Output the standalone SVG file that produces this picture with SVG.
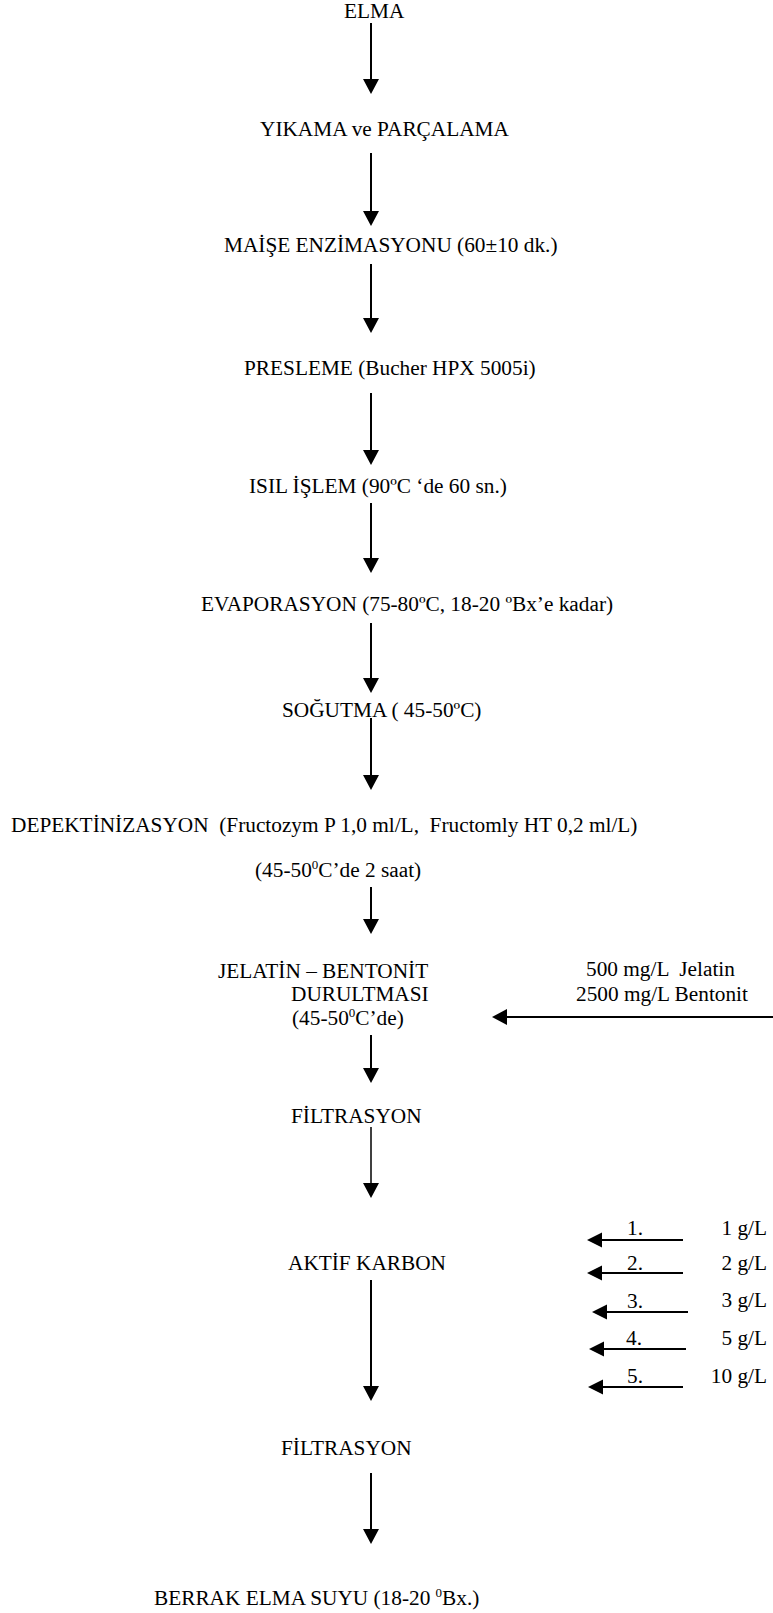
<svg xmlns="http://www.w3.org/2000/svg" width="773" height="1613" viewBox="0 0 773 1613">
<defs>
<marker id="ah" markerUnits="userSpaceOnUse" markerWidth="16" markerHeight="16" refX="5" refY="8" orient="auto" viewBox="0 0 16 16">
<path d="M0,0 L15,8 L0,16 z" fill="#000"/>
</marker>
<marker id="ahs" markerUnits="userSpaceOnUse" markerWidth="16" markerHeight="16" refX="5" refY="7.5" orient="auto" viewBox="0 0 16 15">
<path d="M0,0 L15,7.5 L0,15 z" fill="#000"/>
</marker>
</defs>
<style>
text{font-family:"Liberation Serif","DejaVu Serif",serif;font-size:21.3px;fill:#000;white-space:pre}
.c{stroke:#000;stroke-width:2;fill:none;marker-end:url(#ah)}
.t{stroke-width:1.5}
.s{stroke:#000;stroke-width:2;fill:none;marker-end:url(#ahs)}
.sup{font-size:13px}
.r{text-anchor:end}
</style>
<rect width="773" height="1613" fill="#fff"/>
<g id="connectors">
<line class="c" x1="371" y1="23" x2="371" y2="84"/>
<line class="c" x1="371" y1="153" x2="371" y2="216"/>
<line class="c" x1="371" y1="264" x2="371" y2="323"/>
<line class="c" x1="371" y1="393" x2="371" y2="455"/>
<line class="c" x1="371" y1="503" x2="371" y2="563"/>
<line class="c" x1="371" y1="623" x2="371" y2="683"/>
<line class="c" x1="371" y1="718" x2="371" y2="780"/>
<line class="c" x1="371" y1="887" x2="371" y2="924"/>
<line class="c" x1="371" y1="1035" x2="371" y2="1073"/>
<line class="c t" x1="371" y1="1127" x2="371" y2="1188"/>
<line class="c" x1="371" y1="1280" x2="371" y2="1391"/>
<line class="c" x1="371" y1="1473" x2="371" y2="1534"/>
<line class="c" x1="773" y1="1017" x2="502" y2="1017"/>
<line class="s" x1="683" y1="1240" x2="597" y2="1240"/>
<line class="s" x1="683" y1="1273" x2="597" y2="1273"/>
<line class="s" x1="688" y1="1312" x2="602" y2="1312"/>
<line class="s" x1="686" y1="1349" x2="599" y2="1349"/>
<line class="s" x1="683" y1="1387" x2="598" y2="1387"/>
</g>
<g id="n-elma"><text x="344" y="18">ELMA</text></g>
<g id="n-yikama"><text x="260" y="136">YIKAMA ve PARÇALAMA</text></g>
<g id="n-maise"><text x="224" y="252">MAİŞE ENZİMASYONU (60±10 dk.)</text></g>
<g id="n-presleme"><text x="244" y="375">PRESLEME (Bucher HPX 5005i)</text></g>
<g id="n-isil"><text x="249" y="493">ISIL İŞLEM (90ºC ‘de 60 sn.)</text></g>
<g id="n-evaporasyon"><text x="201" y="611">EVAPORASYON (75-80ºC, 18-20 ºBx’e kadar)</text></g>
<g id="n-sogutma"><text x="282" y="717">SOĞUTMA ( 45-50ºC)</text></g>
<g id="n-depektinizasyon">
<text x="11" y="832">DEPEKTİNİZASYON  (Fructozym P 1,0 ml/L,  Fructomly HT 0,2 ml/L)</text>
<text x="255" y="877">(45-50<tspan class="sup" dy="-8">0</tspan><tspan dy="8">C’de 2 saat)</tspan></text>
</g>
<g id="n-jelatin">
<text x="218" y="978">JELATİN – BENTONİT</text>
<text x="291" y="1001">DURULTMASI</text>
<text x="292" y="1025">(45-50<tspan class="sup" dy="-8">0</tspan><tspan dy="8">C’de)</tspan></text>
</g>
<g id="n-jelatin-input">
<text x="586" y="976">500 mg/L  Jelatin</text>
<text x="576" y="1001">2500 mg/L Bentonit</text>
</g>
<g id="n-filtrasyon1"><text x="291" y="1123">FİLTRASYON</text></g>
<g id="n-aktif"><text x="288" y="1270">AKTİF KARBON</text></g>
<g id="n-doses">
<text x="627" y="1235">1.</text><text class="r" x="767" y="1235">1 g/L</text>
<text x="627" y="1270">2.</text><text class="r" x="767" y="1270">2 g/L</text>
<text x="627" y="1308">3.</text><text class="r" x="767" y="1307">3 g/L</text>
<text x="626" y="1345">4.</text><text class="r" x="767" y="1345">5 g/L</text>
<text x="627" y="1383">5.</text><text class="r" x="767" y="1383">10 g/L</text>
</g>
<g id="n-filtrasyon2"><text x="281" y="1455">FİLTRASYON</text></g>
<g id="n-berrak"><text x="154" y="1605">BERRAK ELMA SUYU (18-20 <tspan class="sup" dy="-8">0</tspan><tspan dy="8">Bx.)</tspan></text></g>
</svg>
